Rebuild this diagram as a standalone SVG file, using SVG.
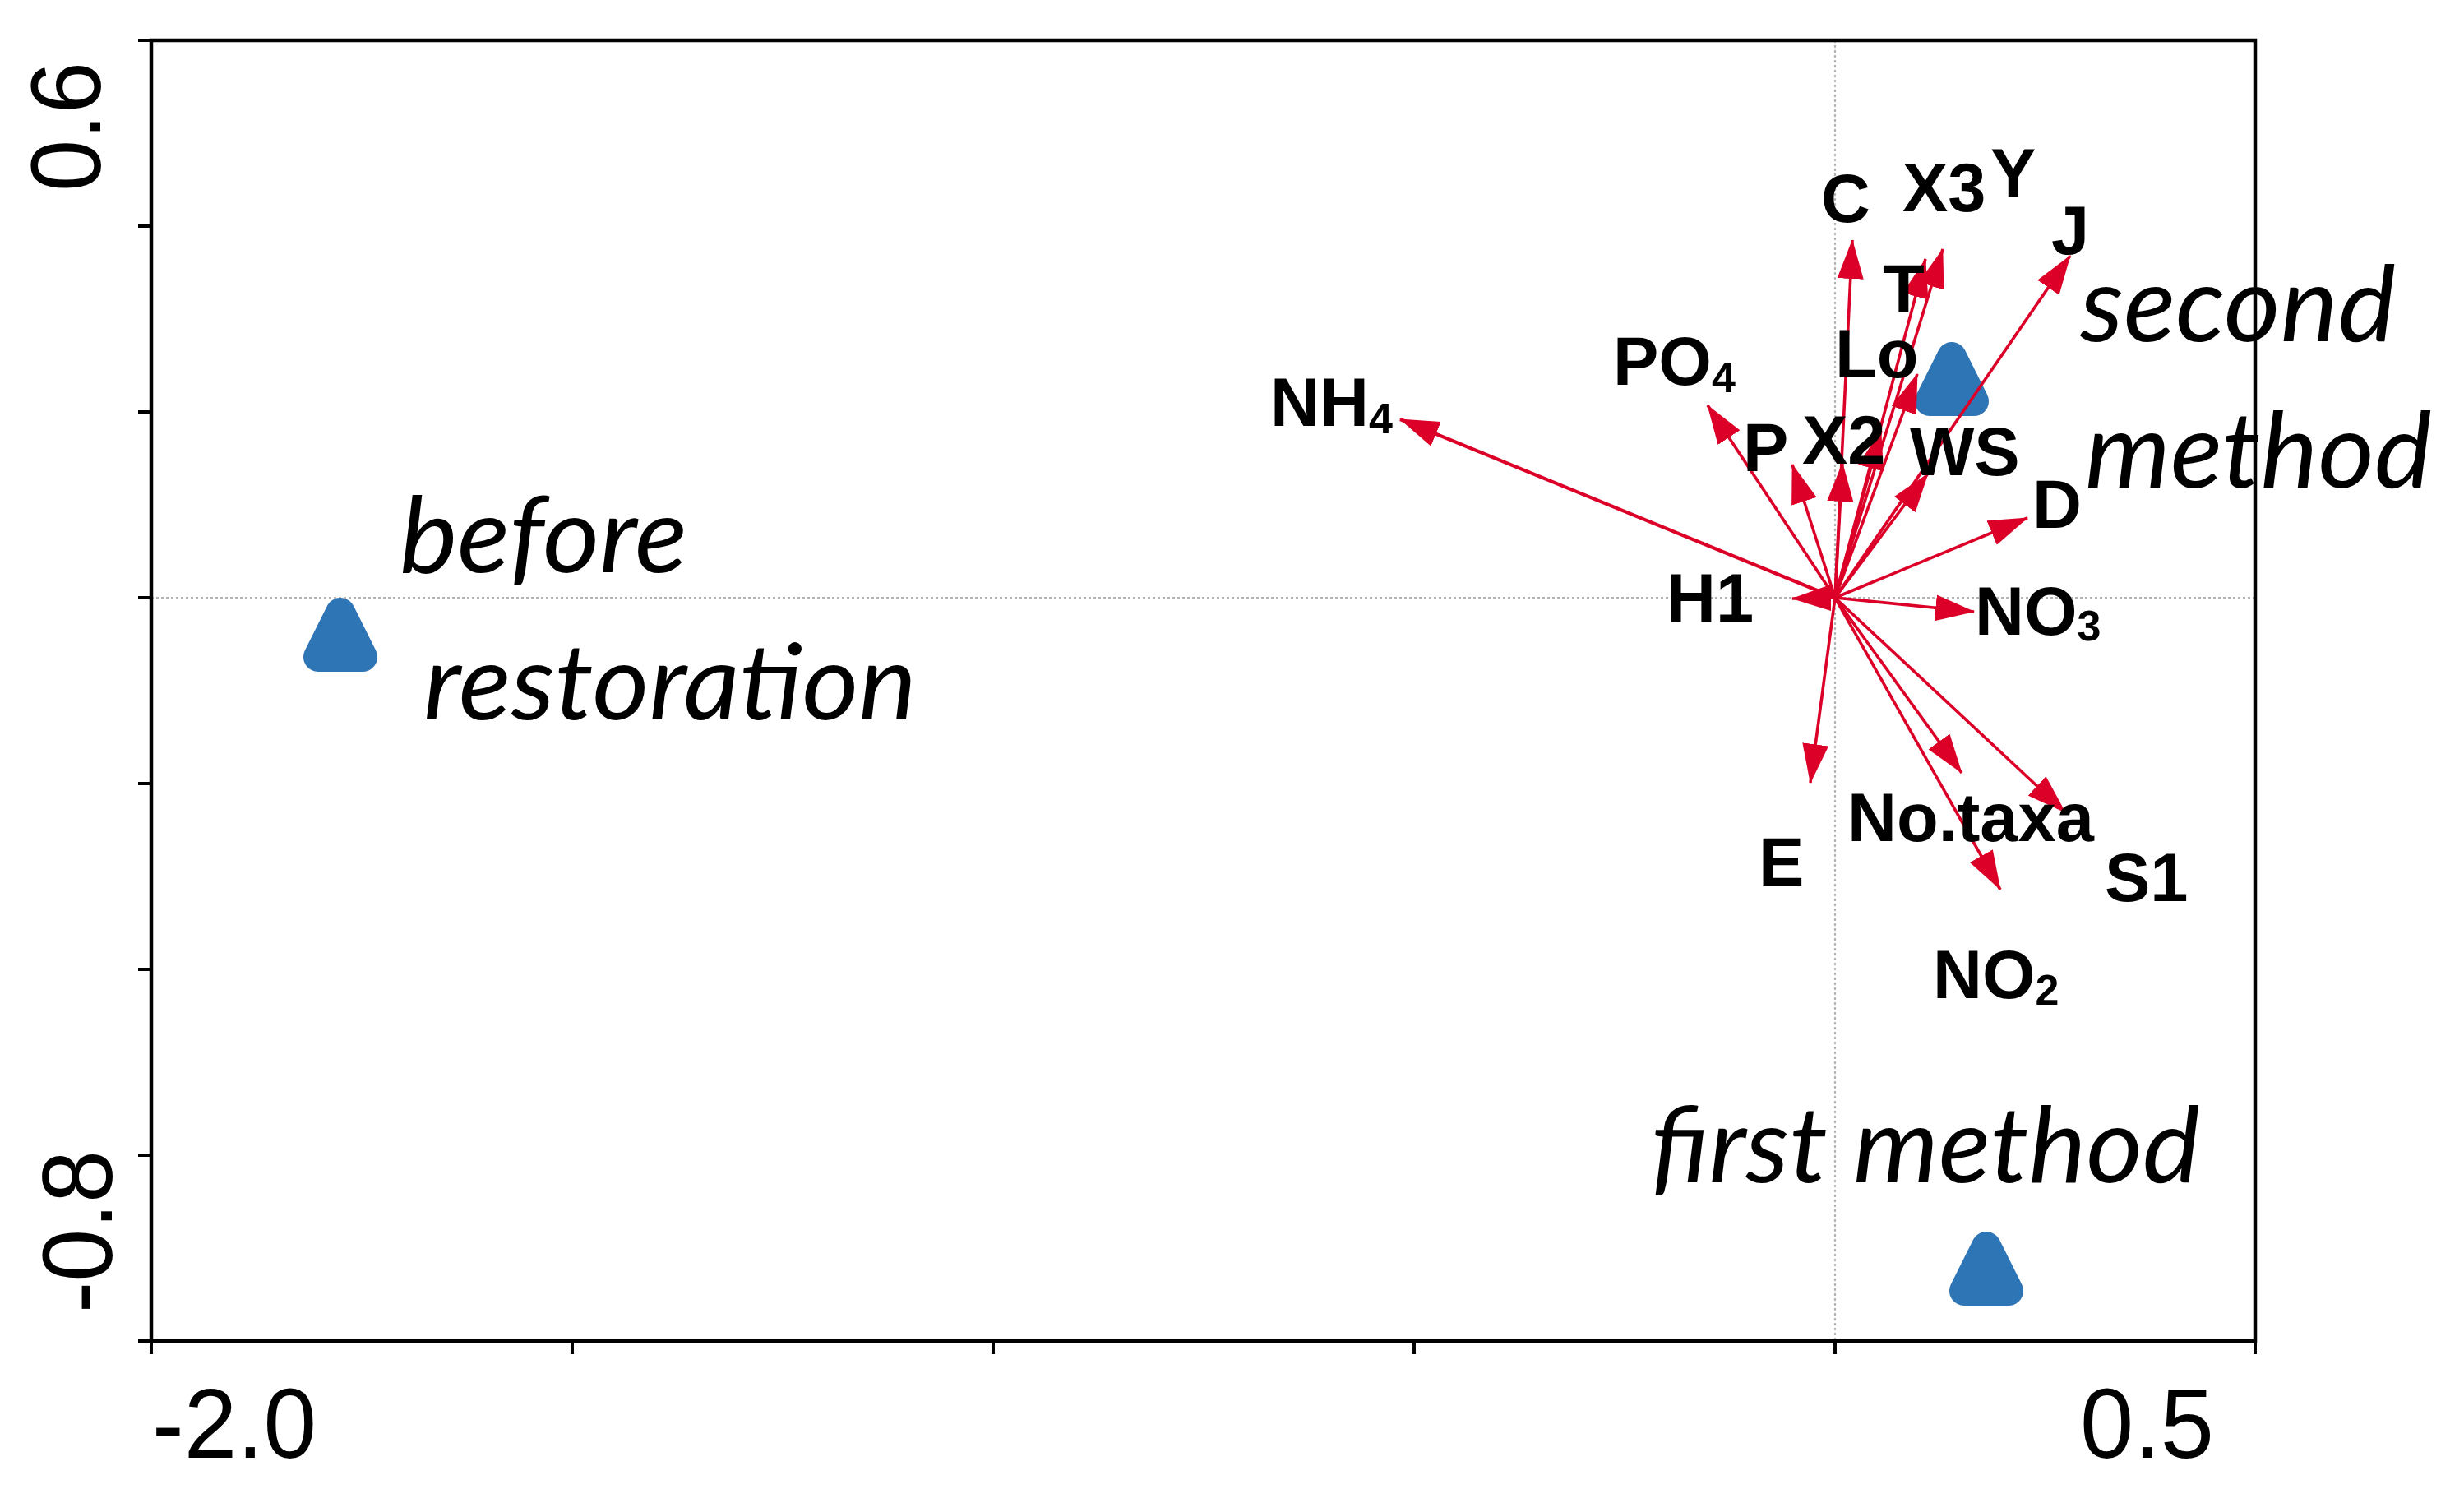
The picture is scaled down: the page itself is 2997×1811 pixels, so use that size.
<svg xmlns="http://www.w3.org/2000/svg" xmlns:xlink="http://www.w3.org/1999/xlink" width="2997" height="1811" viewBox="0 0 2997 1811">
<style>
.grid{stroke:#b4b4b4;stroke-width:2.2;stroke-dasharray:3 3;fill:none}
.axis{stroke:#000;stroke-width:4.5;fill:none}
.tick{stroke:#000;stroke-width:4}
.ticklbl{font-family:"Liberation Sans",Arial,sans-serif;font-size:120px;fill:#000}
.arr{stroke:#DC0028;stroke-width:3.6;fill:none;marker-end:url(#ah)}
.var{font-family:"Liberation Sans",Arial,sans-serif;font-weight:bold;font-size:83px;fill:#000}
.sub{font-size:52px}
.site{font-family:Lato,"Open Sans",sans-serif;font-style:italic;font-size:128px;fill:#000}
</style>
<defs>
<marker id="ah" viewBox="0 0 48 32" markerWidth="48" markerHeight="32" refX="47" refY="16" orient="auto" markerUnits="userSpaceOnUse">
<path d="M0,0 L48,16 L0,32 Z" fill="#DC0028"/>
</marker>
<polygon id="tri" points="0,-28 -27,26 27,26" fill="#2E75B6" stroke="#2E75B6" stroke-width="36" stroke-linejoin="round"/>
</defs>
<rect width="2997" height="1811" fill="#fff"/>
<g id="grid">
<line class="grid" x1="2232" y1="49" x2="2232" y2="1631"/>
<line class="grid" x1="184" y1="727" x2="2743" y2="727"/>
</g>
<g id="sites">
<g id="site-before"><use href="#tri" x="414" y="773"/></g>
<g id="site-second"><use href="#tri" x="2374" y="462"/></g>
<g id="site-first"><use href="#tri" x="2416" y="1544"/></g>
</g>
<g id="connectors">
<line class="arr" x1="2232" y1="727" x2="2253" y2="292"/>
<line class="arr" x1="2232" y1="727" x2="2342" y2="315"/>
<line class="arr" x1="2232" y1="727" x2="2363" y2="303"/>
<line class="arr" x1="2232" y1="727" x2="2518" y2="311"/>
<line class="arr" x1="2232" y1="727" x2="2332" y2="455"/>
<line class="arr" x1="2232" y1="727" x2="2077" y2="493"/>
<line class="arr" x1="2232" y1="727" x2="1703" y2="510" style="stroke-width:4.2"/>
<line class="arr" x1="2232" y1="727" x2="2180" y2="565"/>
<line class="arr" x1="2232" y1="727" x2="2241" y2="563"/>
<line class="arr" x1="2232" y1="727" x2="2288" y2="524"/>
<line class="arr" x1="2232" y1="727" x2="2345" y2="576"/>
<line class="arr" x1="2232" y1="727" x2="2466" y2="630"/>
<line class="arr" x1="2232" y1="727" x2="2180" y2="728"/>
<line class="arr" x1="2232" y1="727" x2="2401" y2="744"/>
<line class="arr" x1="2232" y1="727" x2="2386" y2="940"/>
<line class="arr" x1="2232" y1="727" x2="2202" y2="952"/>
<line class="arr" x1="2232" y1="727" x2="2512" y2="988"/>
<line class="arr" x1="2232" y1="727" x2="2433" y2="1082"/>
</g>
<g id="var-C"><text class="var" x="2215" y="270">C</text></g>
<g id="var-X3"><text class="var" x="2314" y="257">X3</text></g>
<g id="var-Y"><text class="var" x="2421" y="239">Y</text></g>
<g id="var-J"><text class="var" x="2495" y="309">J</text></g>
<g id="var-T"><text class="var" x="2290" y="380">T</text></g>
<g id="var-Lo"><text class="var" x="2232" y="459">Lo</text></g>
<g id="var-PO4"><text class="var" x="1962" y="468">PO<tspan class="sub" dy="9">4</tspan></text></g>
<g id="var-NH4"><text class="var" x="1545" y="518">NH<tspan class="sub" dy="9">4</tspan></text></g>
<g id="var-P"><text class="var" x="2120" y="573">P</text></g>
<g id="var-X2"><text class="var" x="2192" y="564">X2</text></g>
<g id="var-WS"><text class="var" x="2323" y="578">WS</text></g>
<g id="var-D"><text class="var" x="2472" y="642">D</text></g>
<g id="var-H1"><text class="var" x="2027" y="756">H1</text></g>
<g id="var-NO3"><text class="var" x="2402" y="772">NO<tspan class="sub" dy="7">3</tspan></text></g>
<g id="var-Notaxa"><text class="var" x="2247" y="1023">No.taxa</text></g>
<g id="var-E"><text class="var" x="2139" y="1077">E</text></g>
<g id="var-S1"><text class="var" x="2560" y="1096">S1</text></g>
<g id="var-NO2"><text class="var" x="2351" y="1214">NO<tspan class="sub" dy="8">2</tspan></text></g>
<g id="label-before"><text class="site" x="486" y="696" textLength="350" lengthAdjust="spacingAndGlyphs">before</text>
<text class="site" x="515" y="875" textLength="600" lengthAdjust="spacingAndGlyphs">restoration</text></g>
<g id="label-second"><text class="site" x="2530" y="415" textLength="384" lengthAdjust="spacingAndGlyphs">second</text>
<text class="site" x="2536" y="593" textLength="422" lengthAdjust="spacingAndGlyphs">method</text></g>
<g id="label-first"><text class="site" x="2008" y="1438" textLength="668" lengthAdjust="spacingAndGlyphs">first method</text></g>
<g id="axes">
<rect class="axis" x="184" y="49" width="2559" height="1582"/>
<line class="tick" x1="168" y1="49" x2="184" y2="49"/>
<line class="tick" x1="168" y1="275" x2="184" y2="275"/>
<line class="tick" x1="168" y1="501" x2="184" y2="501"/>
<line class="tick" x1="168" y1="727" x2="184" y2="727"/>
<line class="tick" x1="168" y1="953" x2="184" y2="953"/>
<line class="tick" x1="168" y1="1179" x2="184" y2="1179"/>
<line class="tick" x1="168" y1="1405" x2="184" y2="1405"/>
<line class="tick" x1="168" y1="1631" x2="184" y2="1631"/>
<line class="tick" x1="184" y1="1631" x2="184" y2="1647"/>
<line class="tick" x1="696" y1="1631" x2="696" y2="1647"/>
<line class="tick" x1="1208" y1="1631" x2="1208" y2="1647"/>
<line class="tick" x1="1720" y1="1631" x2="1720" y2="1647"/>
<line class="tick" x1="2232" y1="1631" x2="2232" y2="1647"/>
<line class="tick" x1="2743" y1="1631" x2="2743" y2="1647"/>
<text class="ticklbl" transform="translate(122,233) rotate(-90)" textLength="158" lengthAdjust="spacingAndGlyphs">0.6</text>
<text class="ticklbl" transform="translate(136,1597) rotate(-90)" textLength="198" lengthAdjust="spacingAndGlyphs">-0.8</text>
<text class="ticklbl" x="185" y="1773" textLength="200" lengthAdjust="spacingAndGlyphs">-2.0</text>
<text class="ticklbl" x="2530" y="1773" textLength="163" lengthAdjust="spacingAndGlyphs">0.5</text>
</g>
</svg>
